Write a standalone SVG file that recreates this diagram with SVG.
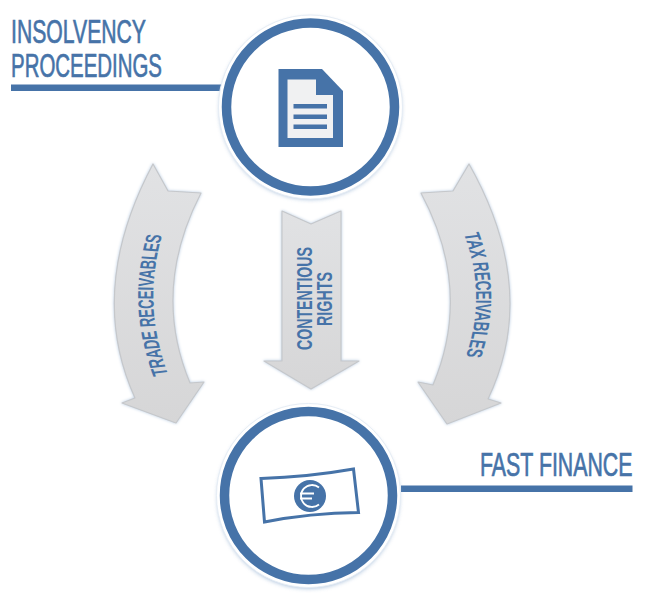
<svg xmlns="http://www.w3.org/2000/svg" width="645" height="607" viewBox="0 0 645 607">
<style>
.bar{fill:#4673a8}
.ring{fill:#fff;stroke:#4673a8;stroke-width:9.5}
.halo{fill:#fff;stroke:#e6edf5;stroke-width:1}
.glow{fill:#8fadd0;opacity:.75;filter:url(#soft)}
.arrow{fill:url(#grey);stroke:#c6c8cb;stroke-width:1.2;stroke-linejoin:round;filter:drop-shadow(0 0 1.5px #b9cce2)}
.head{font-family:"Liberation Sans",Arial,sans-serif;fill:#4673a8;stroke:#4673a8;stroke-width:.7px;font-size:34px}
.lab{font-family:"Liberation Sans",Arial,sans-serif;font-weight:700;fill:#4673a8;font-size:22px}
</style>
<defs>
<linearGradient id="grey" x1="0" y1="0" x2="0" y2="1"><stop offset="0" stop-color="#e1e2e4"/><stop offset="1" stop-color="#d6d6d7"/></linearGradient>
<filter id="soft" x="-20%" y="-20%" width="140%" height="140%"><feGaussianBlur stdDeviation="2.2"/></filter>
<path id="pTrade" d="M-628.600 168Q-512.600 142 -396.600 162"/>
<path id="pTax" d="M383.600 -464Q483.600 -487 583.600 -466"/>
</defs>
<g id="connectors">
<rect class="bar" x="11" y="84.500" width="212" height="6.500"/>
<rect class="bar" x="401" y="485.500" width="231.500" height="6.500"/>
<g id="arrow-trade">
<path class="arrow" d="M153 164L168 191L201 193Q151 290 190 383L204 382L176 423L122 403L135 398Q86 290 153 164Z"/>
<g transform="rotate(-90) scale(.595 1)"><text class="lab" text-anchor="middle"><textPath href="#pTrade" startOffset="50%">TRADE RECEIVABLES</textPath></text></g>
</g>
<g id="arrow-contentious">
<path class="arrow" d="M282 211L311 224L341 211V361H359L311 389L264 361H282Z"/>
<text class="lab" text-anchor="middle" transform="translate(312 298.500) rotate(-90)" x="0" y="0" textLength="103" lengthAdjust="spacingAndGlyphs">CONTENTIOUS</text>
<text class="lab" text-anchor="middle" transform="translate(332 299) rotate(-90)" x="0" y="0" textLength="54" lengthAdjust="spacingAndGlyphs">RIGHTS</text>
</g>
<g id="arrow-tax">
<path class="arrow" d="M469 164L453 191L421 193Q473 290 433 385L418 382L447 424L501 403L488 399Q540 290 469 164Z"/>
<g transform="rotate(90) scale(.61 1)"><text class="lab" text-anchor="middle"><textPath href="#pTax" startOffset="50%">TAX RECEIVABLES</textPath></text></g>
</g>
</g>
<g id="node-insolvency">
<text class="head" x="11" y="43" textLength="135" lengthAdjust="spacingAndGlyphs">INSOLVENCY</text>
<text class="head" x="11" y="77" textLength="151" lengthAdjust="spacingAndGlyphs">PROCEEDINGS</text>
<circle class="glow" cx="310.500" cy="108.500" r="91"/>
<circle class="halo" cx="310.500" cy="107" r="92"/>
<circle class="ring" cx="310.500" cy="107" r="84"/>
<path fill="#4673a8" d="M278.500 69H322L343 91V147H278.500Z"/>
<path fill="#f0f1f2" d="M287.500 79.500H316V95H333V138H287.500Z"/>
<g fill="#4673a8"><rect x="293.500" y="104" width="33.500" height="4.500"/><rect x="293.500" y="114.500" width="33.500" height="4.500"/><rect x="293.500" y="124.500" width="33.500" height="4.500"/></g>
</g>
<g id="node-finance">
<text class="head" style="font-size:33px" x="480" y="476" textLength="152.500" lengthAdjust="spacingAndGlyphs">FAST FINANCE</text>
<circle class="glow" cx="308.500" cy="497.500" r="91"/>
<circle class="halo" cx="308.500" cy="495.500" r="92"/>
<circle class="ring" cx="308.500" cy="495.500" r="84"/>
<path fill="none" stroke="#4673a8" stroke-width="3" d="M261 478.500Q308 477 353.500 469L358.500 512.500Q310 513 264.500 522Z"/>
<circle cx="310" cy="496" r="16" fill="#4673a8"/>
<path fill="none" stroke="#fff" stroke-width="1.800" d="M319 487.500A11 11 0 1 0 319 504.500M300 493.500H314M300 498.500H312"/>
</g>
</svg>
